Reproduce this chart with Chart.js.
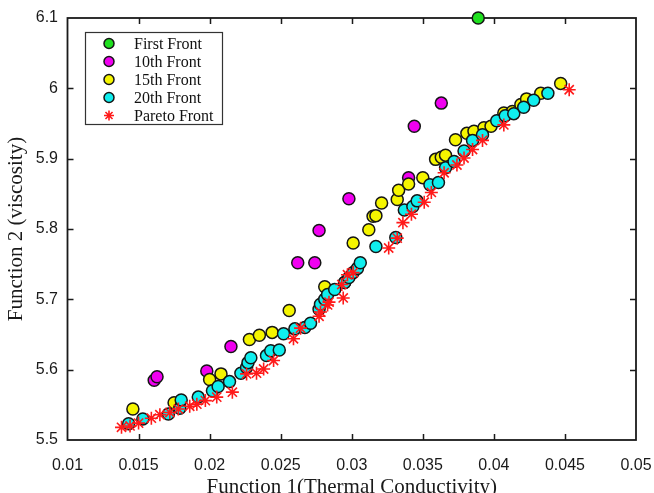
<!DOCTYPE html>
<html><head><meta charset="utf-8">
<script src="https://cdn.jsdelivr.net/npm/chart.js@4.4.0/dist/chart.umd.min.js"></script>
<style>html,body{margin:0;padding:0;background:#fff;}#wrap{width:654px;height:493px;}</style>
</head><body><div id="wrap"><canvas id="c" width="654" height="493"></canvas></div>
<script>
const xTicks = [0.01,0.015,0.02,0.025,0.03,0.035,0.04,0.045,0.05];
const yTicks = [5.5,5.6,5.7,5.8,5.9,6.0,6.1];
const seriesNames = ['First Front','10th Front','15th Front','20th Front','Pareto Front'];

const firstX = [0.0389];
const firstY = [6.1];

const tenthX = [0.0161,0.0163,0.0198,0.0215,0.0262,0.0274,0.0277,0.0298,0.0340,0.0344,0.0363];
const tenthY = [5.585,5.590,5.598,5.633,5.752,5.752,5.798,5.843,5.873,5.946,5.979];

const fifteenthX = [0.0146,0.0175,0.0200,0.0208,0.0228,0.0235,0.0244,0.0256,0.0281,0.0295,0.0301,0.0312,0.0315,0.0317,0.0321,0.0332,0.0333,0.0340,0.0350,0.0359,0.0363,0.0366,0.0373,0.0381,0.0386,0.0393,0.0398,0.0407,0.0413,0.0419,0.0423,0.0433,0.0447];
const fifteenthY = [5.544,5.553,5.586,5.594,5.643,5.649,5.653,5.684,5.718,5.724,5.780,5.799,5.818,5.819,5.837,5.842,5.855,5.864,5.873,5.899,5.902,5.905,5.927,5.936,5.939,5.944,5.946,5.965,5.967,5.977,5.985,5.993,6.007];

const twentiethX = [0.0143,0.0153,0.0171,0.0179,0.0180,0.0192,0.0202,0.0206,0.0214,0.0222,0.0226,0.0227,0.0229,0.0240,0.0243,0.0249,0.0252,0.0260,0.0267,0.0271,0.0277,0.0278,0.0281,0.0283,0.0288,0.0295,0.0298,0.0301,0.0304,0.0306,0.0317,0.0331,0.0337,0.0343,0.0346,0.0355,0.0361,0.0366,0.0372,0.0379,0.0385,0.0392,0.0402,0.0408,0.0414,0.0421,0.0428,0.0438];
const twentiethY = [5.523,5.530,5.537,5.545,5.557,5.561,5.570,5.576,5.583,5.595,5.603,5.610,5.617,5.620,5.627,5.628,5.651,5.658,5.660,5.666,5.686,5.693,5.700,5.707,5.714,5.724,5.731,5.738,5.744,5.752,5.775,5.788,5.827,5.832,5.840,5.863,5.866,5.887,5.896,5.911,5.926,5.934,5.954,5.961,5.964,5.973,5.983,5.993];

const paretoX = [0.0138,0.0144,0.0150,0.0159,0.0165,0.0172,0.0178,0.0186,0.0191,0.0197,0.0205,0.0216,0.0226,0.0233,0.0238,0.0245,0.0259,0.0264,0.0277,0.0278,0.0283,0.0284,0.0294,0.0293,0.0297,0.0301,0.0326,0.0332,0.0336,0.0342,0.0351,0.0356,0.0365,0.0374,0.0379,0.0385,0.0392,0.0407,0.0453];
const paretoY = [5.518,5.520,5.524,5.531,5.536,5.539,5.544,5.548,5.551,5.556,5.561,5.568,5.594,5.595,5.601,5.613,5.644,5.659,5.676,5.682,5.692,5.696,5.702,5.721,5.735,5.738,5.773,5.787,5.809,5.821,5.838,5.852,5.880,5.891,5.901,5.913,5.926,5.948,5.998];

const pts = (xs, ys) => xs.map((x, i) => ({x: x, y: ys[i]}));

function circleSet(label, xs, ys, color, order) {
  return {label, data: pts(xs, ys), pointStyle: 'circle', pointRadius: 6, pointHoverRadius: 6,
    backgroundColor: color, borderColor: '#151515', borderWidth: 1.5, order, clip: false, showLine: false};
}

const datasets = [
  circleSet(seriesNames[0], firstX, firstY, '#1fe01f', 5),
  circleSet(seriesNames[1], tenthX, tenthY, '#f000f0', 4),
  circleSet(seriesNames[2], fifteenthX, fifteenthY, '#f5f500', 3),
  circleSet(seriesNames[3], twentiethX, twentiethY, '#10eeee', 2),
  {label: seriesNames[4], data: pts(paretoX, paretoY), pointStyle: 'star', pointRadius: 6.5, pointHoverRadius: 6.5,
   backgroundColor: '#ff1a1a', borderColor: '#ff1a1a', borderWidth: 1.6, order: 1, clip: false, showLine: false}
];

const framePlugin = {
  id: 'frame',
  beforeDatasetsDraw(chart) {
    const {ctx, chartArea: a, scales} = chart;
    ctx.save();
    ctx.strokeStyle = '#1a1a1a';
    ctx.lineWidth = 1.8;
    ctx.strokeRect(a.left, a.top, a.right - a.left, a.bottom - a.top);
    ctx.lineWidth = 1.5;
    ctx.beginPath();
    xTicks.slice(1, -1).forEach(v => {
      const p = Math.round(scales.x.getPixelForValue(v)) + 0.5;
      ctx.moveTo(p, a.bottom); ctx.lineTo(p, a.bottom - 6);
      ctx.moveTo(p, a.top); ctx.lineTo(p, a.top + 6);
    });
    yTicks.slice(1, -1).forEach(v => {
      const p = Math.round(scales.y.getPixelForValue(v)) + 0.5;
      ctx.moveTo(a.left, p); ctx.lineTo(a.left + 6, p);
      ctx.moveTo(a.right, p); ctx.lineTo(a.right - 6, p);
    });
    ctx.stroke();
    ctx.restore();
  }
};

const legendPlugin = {
  id: 'boxLegend',
  afterDraw(chart) {
    const ctx = chart.ctx;
    const bx = 85, by = 32, bw = 137, bh = 92;
    ctx.save();
    ctx.fillStyle = '#fff';
    ctx.fillRect(bx, by, bw, bh);
    ctx.strokeStyle = '#333';
    ctx.lineWidth = 1.2;
    ctx.strokeRect(bx + 0.5, by + 0.5, bw, bh);
    ctx.font = '16px "Liberation Serif", "Times New Roman", serif';
    ctx.textBaseline = 'middle';
    ctx.textAlign = 'left';
    chart.data.datasets.forEach((ds, i) => {
      const y = by + 11.5 + i * 18;
      ctx.fillStyle = ds.backgroundColor;
      ctx.strokeStyle = ds.borderColor;
      ctx.lineWidth = ds.borderWidth;
      Chart.helpers.drawPoint(ctx, {
        pointStyle: ds.pointStyle, radius: 5, rotation: 0,
        borderWidth: ds.borderWidth
      }, 109, y);
      ctx.fillStyle = '#111';
      ctx.fillText(ds.label, 134, y + 1);
    });
    ctx.restore();
  }
};

new Chart(document.getElementById('c'), {
  type: 'scatter',
  data: {datasets},
  options: {
    responsive: false,
    animation: false,
    devicePixelRatio: 1,
    layout: {padding: {left: 0, right: 18, top: 18, bottom: 0}},
    plugins: {legend: {display: false}, tooltip: {enabled: false}},
    scales: {
      x: {
        type: 'linear', min: 0.01, max: 0.05,
        afterBuildTicks: s => { s.ticks = xTicks.map(v => ({value: v})); },
        afterFit: s => { s.height = 53; s.paddingRight = 0; s.paddingLeft = 0; },
        grid: {display: false, drawTicks: false},
        border: {display: false},
        ticks: {
          autoSkip: false, maxRotation: 0, padding: 16, color: '#1a1a1a',
          font: {family: '"Liberation Sans", Arial, sans-serif', size: 16},
          callback: v => String(parseFloat(Number(v).toFixed(3)))
        },
        title: {display: true, text: 'Function 1(Thermal Conductivity)', color: '#1a1a1a',
          font: {family: '"Liberation Serif", "Times New Roman", serif', size: 21},
          padding: {top: 0, bottom: -6.6}}
      },
      y: {
        type: 'linear', min: 5.5, max: 6.1,
        afterBuildTicks: s => { s.ticks = yTicks.map(v => ({value: v})); },
        afterFit: s => { s.width = 67.5; s.paddingTop = 0; s.paddingBottom = 0; },
        grid: {display: false, drawTicks: false},
        border: {display: false},
        ticks: {
          autoSkip: false, padding: 9.5, color: '#1a1a1a',
          font: {family: '"Liberation Sans", Arial, sans-serif', size: 16},
          callback: v => String(parseFloat(Number(v).toFixed(1)))
        },
        title: {display: true, text: 'Function 2 (viscosity)', color: '#1a1a1a',
          font: {family: '"Liberation Serif", "Times New Roman", serif', size: 21},
          padding: {top: 3.4, bottom: 0}}
      }
    }
  },
  plugins: [framePlugin, legendPlugin]
});
</script>
</body></html>
